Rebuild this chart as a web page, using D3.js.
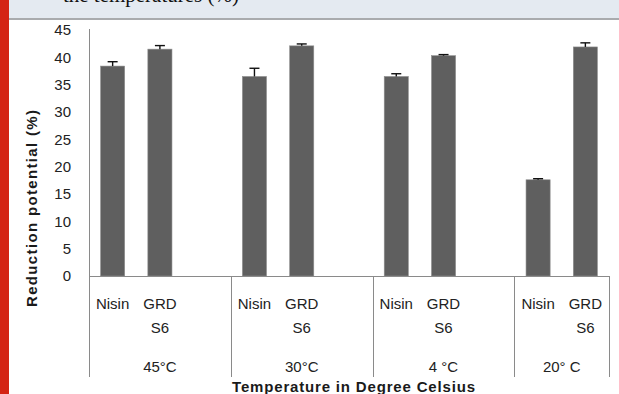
<!DOCTYPE html>
<html><head><meta charset="utf-8">
<script src="https://cdn.jsdelivr.net/npm/d3@7"></script>
<style>html,body{margin:0;padding:0;background:#fff;}svg{display:block;}</style>
</head><body>
<svg id="c" width="619" height="394"></svg>
<script>
const groups = ["45°C", "30°C", "4 °C", "20° C"];
const treatments = ["Nisin", "GRD S6"];
const values = [38.4, 41.5, 36.5, 42.1, 36.5, 40.3, 17.6, 41.9];
const errors = [0.8, 0.65, 1.5, 0.35, 0.5, 0.2, 0.2, 0.75];
const yTicks = [0, 5, 10, 15, 20, 25, 30, 35, 40, 45];
const yTitle = "Reduction potential (%)";
const xTitle = "Temperature in Degree Celsius";
const headerText = "the temperatures (%)";

const svg = d3.select("#c");
const W = 619, H = 394;
const plotL = 89, plotR = 609, y0 = 276, yTop = 30, catBottom = 377;

// page decoration
svg.append("rect").attr("x", 9).attr("y", 0).attr("width", W - 9).attr("height", 18).attr("fill", "#e4eaf1");
svg.append("rect").attr("x", 9).attr("y", 18).attr("width", W - 9).attr("height", 2).attr("fill", "#a9abae");
svg.append("text").attr("x", 239).attr("y", 1.5).attr("text-anchor", "end")
  .attr("font-family", "Liberation Serif").attr("font-size", 21).attr("fill", "#111").text(headerText);
svg.append("rect").attr("x", 0).attr("y", 0).attr("width", 9).attr("height", H).attr("fill", "#d42414");

// data rows
const rows = [];
groups.forEach((g, gi) => treatments.forEach((t, ti) => {
  const i = gi * treatments.length + ti;
  rows.push({ key: g + "|" + t, group: g, t, v: values[i], e: errors[i] });
}));
// slot domain: each group's treatments plus one empty slot (except last group)
const slots = [];
groups.forEach((g, gi) => {
  treatments.forEach(t => slots.push(g + "|" + t));
  if (gi < groups.length - 1) slots.push(g + "|_");
});

const x = d3.scaleBand().domain(slots).range([plotL, plotR]).paddingInner(0.49).paddingOuter(0.245);
const y = d3.scaleLinear().domain([0, 45]).range([y0, yTop]);
const step = x.step();
const slotStart = k => x(k) - (step - x.bandwidth()) / 2;

// y axis
const yAxis = d3.axisLeft(y).tickValues(yTicks).tickSize(0).tickPadding(18);
const ya = svg.append("g").attr("transform", `translate(${plotL},0)`).call(yAxis);
ya.select(".domain").remove();
ya.selectAll("text").attr("font-family", "Liberation Sans").attr("font-size", 15).attr("fill", "#222");

// axis lines
const axisCol = "#8a8a8a";
svg.append("line").attr("x1", plotL + 0.5).attr("x2", plotL + 0.5).attr("y1", yTop - 1).attr("y2", catBottom).attr("stroke", axisCol);
svg.append("line").attr("x1", plotL).attr("x2", plotR).attr("y1", y0 + 0.5).attr("y2", y0 + 0.5).attr("stroke", axisCol);

// group separators
groups.forEach((g, gi) => {
  const xe = gi < groups.length - 1 ? Math.round(slotStart(g + "|_") + step) : plotR;
  svg.append("line").attr("x1", xe + 0.5).attr("x2", xe + 0.5).attr("y1", y0).attr("y2", catBottom).attr("stroke", axisCol);
});

// bars
svg.append("g").selectAll("rect").data(rows).join("rect")
  .attr("x", d => x(d.key)).attr("width", x.bandwidth())
  .attr("y", d => y(d.v)).attr("height", d => y(0) - y(d.v))
  .attr("fill", "#5f5f5f").attr("stroke", "#8f8f8f").attr("stroke-width", 0.6);

// error bars (plus only)
const eb = svg.append("g").attr("stroke", "#111").attr("stroke-width", 1.4);
rows.forEach(d => {
  const cx = x(d.key) + x.bandwidth() / 2;
  eb.append("line").attr("x1", cx).attr("x2", cx).attr("y1", y(d.v)).attr("y2", y(d.v + d.e));
  eb.append("line").attr("x1", cx - 5).attr("x2", cx + 5).attr("y1", y(d.v + d.e)).attr("y2", y(d.v + d.e));
});

// category labels
const lab = svg.append("g").attr("font-family", "Liberation Sans").attr("font-size", 15).attr("fill", "#222").attr("text-anchor", "middle");
rows.forEach(d => {
  const cx = x(d.key) + x.bandwidth() / 2;
  const parts = d.t.split(" ");
  parts.forEach((p, pi) => lab.append("text").attr("x", cx).attr("y", 309 + pi * 24).text(p));
});
groups.forEach((g, gi) => {
  const first = slotStart(g + "|" + treatments[0]);
  const end = gi < groups.length - 1 ? first + 3 * step : plotR;
  lab.append("text").attr("x", (first + end) / 2).attr("y", 372).text(g);
});

// axis titles
svg.append("text").attr("transform", "translate(37,208.5) rotate(-90)").attr("text-anchor", "middle")
  .attr("font-family", "Liberation Sans").attr("font-weight", "bold").attr("font-size", 15).attr("fill", "#1a1a1a")
  .attr("textLength", 197).attr("lengthAdjust", "spacing").text(yTitle);
svg.append("text").attr("x", 353.5).attr("y", 392).attr("text-anchor", "middle")
  .attr("font-family", "Liberation Sans").attr("font-weight", "bold").attr("font-size", 15).attr("fill", "#1a1a1a")
  .attr("textLength", 243).attr("lengthAdjust", "spacing").text(xTitle);
</script>
</body></html>
